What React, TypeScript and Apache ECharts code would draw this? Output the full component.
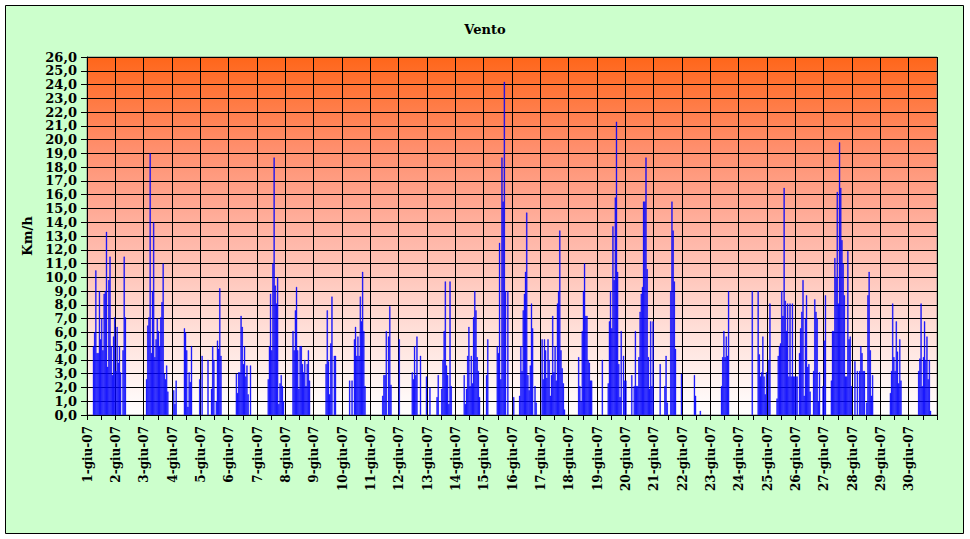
import React, { useEffect, useRef } from "react";
import * as echarts from "echarts";

const dayLabels = [
  "1-giu-07", "2-giu-07", "3-giu-07", "4-giu-07", "5-giu-07", "6-giu-07",
  "7-giu-07", "8-giu-07", "9-giu-07", "10-giu-07", "11-giu-07", "12-giu-07",
  "13-giu-07", "14-giu-07", "15-giu-07", "16-giu-07", "17-giu-07", "18-giu-07",
  "19-giu-07", "20-giu-07", "21-giu-07", "22-giu-07", "23-giu-07", "24-giu-07",
  "25-giu-07", "26-giu-07", "27-giu-07", "28-giu-07", "29-giu-07", "30-giu-07",
];

// hourly wind speed readings (Km/h), 24 per day
const windByDay: number[][] = [
  [0, 0, 0, 0, 0, 5, 6, 10.5, 4.5, 4.5, 9, 5.5, 7, 4.7, 8.8, 9, 13.3, 3.5, 9.8, 11.5, 5.0, 2.9, 5.7, 7.1],
  [3.2, 6.4, 3.8, 5.0, 3.1, 0, 4.7, 11.5, 7.1, 0, 0, 0, 0, 0, 0, 0, 0, 0, 0, 0, 0, 0, 0, 0],
  [0, 0, 2.6, 6.5, 7.1, 19, 4.5, 9, 14, 4.2, 5.5, 7, 6.1, 5.0, 7.1, 8.2, 11, 3, 2.6, 3.6, 1.7, 0, 0, 0],
  [0, 1.8, 0.8, 2.5, 0, 0, 0, 0, 0, 0, 6.3, 6.0, 4.7, 0.6, 3.1, 2.4, 5.0, 0, 0, 0, 0, 0, 0, 2.6],
  [0, 4.3, 0, 0, 0, 0, 4.0, 0, 0, 1.9, 5.0, 4.0, 0, 1.0, 5.4, 4.8, 9.2, 4.3, 0, 0, 0, 0, 0, 0],
  [0, 0, 0, 0, 0, 0, 3.0, 1.6, 3.1, 3.1, 7.2, 6.4, 3.7, 5.0, 2.8, 3.6, 1.5, 0, 3.6, 0, 0, 0, 0, 0],
  [0, 0, 0, 0, 0, 0, 0, 0, 0, 2.6, 5.0, 8.8, 4.7, 11, 18.7, 9.4, 8.1, 10, 0.8, 2.3, 2.9, 2.1, 1.0, 0],
  [0, 0, 0, 0, 0, 0, 6.1, 4.7, 7.6, 9.3, 4.7, 1.9, 5.0, 5.0, 3.7, 3.1, 4.0, 2.1, 3.7, 4.7, 2.5, 0, 0, 0],
  [0, 0, 0, 0, 0, 0, 0, 0, 0, 0, 3.7, 7.6, 3.9, 1.5, 5.2, 8.6, 0, 4.3, 4.3, 0, 0, 0, 0, 0],
  [0, 0, 0, 0, 0, 0, 2.5, 0, 2.5, 0, 5.5, 6.4, 4.3, 5.7, 4.3, 8.6, 6.8, 10.4, 6.1, 2.1, 0, 0, 0, 0],
  [0, 0, 0, 0, 0, 0, 0, 0, 0, 0, 1.4, 2.9, 2.9, 6.1, 0, 5.7, 7.9, 2.2, 0, 0, 0, 0, 0, 0],
  [5.5, 0, 0, 0, 0, 0, 0, 0, 0, 0, 0, 3.1, 2.6, 5.0, 2.9, 5.7, 0, 0, 4.3, 0, 0, 0, 0, 2.8],
  [0, 0, 2.0, 0, 0, 0, 0, 0, 1.3, 2.9, 0, 0, 1.9, 4.0, 6.1, 9.7, 3.6, 2.9, 0.8, 9.7, 2.1, 0, 0, 0],
  [0, 0, 0, 0, 0, 0, 0, 2.9, 0.8, 1.9, 4.3, 6.4, 2.1, 4.3, 2.3, 7.1, 9.0, 7.6, 4.2, 3.2, 1.3, 0, 0, 0],
  [0, 0, 2.9, 5.5, 0, 0, 0, 0, 0, 0, 0, 5.0, 4.5, 12.5, 2.6, 18.7, 15.5, 24.2, 9.0, 0, 9.0, 0, 0, 0],
  [0, 1.3, 0, 0, 0, 0, 1.4, 5.0, 3.2, 7.6, 8.8, 10.4, 14.7, 2.9, 1.8, 3.6, 8.1, 6.3, 0, 2.1, 0.9, 0, 0, 0],
  [0, 5.5, 2.6, 5.5, 4.7, 2.7, 5.5, 4.0, 1.4, 2.9, 7.2, 3.1, 5.0, 2.5, 8.1, 9.0, 13.4, 4.7, 3.4, 2.3, 0.4, 0, 0, 0],
  [0, 0, 0, 0, 0, 0, 0, 0, 4.2, 2.1, 1.0, 6.1, 9.0, 11, 7.2, 7.2, 4.0, 3.8, 2.5, 2.5, 0, 0, 0, 0],
  [0, 0, 0, 0, 4.0, 0, 0, 0, 0, 2.3, 6.8, 9.0, 6.3, 13.7, 9.8, 15.8, 21.3, 10.4, 3.7, 1.3, 6.1, 0, 4.3, 2.5],
  [2.5, 0, 0, 0, 0, 2.9, 0, 2.1, 6.1, 2.1, 2.1, 4.2, 7.5, 8.8, 9.3, 15.5, 15.5, 18.7, 10.6, 4.2, 1.9, 6.8, 2.1, 6.8],
  [0, 0, 0, 0, 0, 3.7, 0, 0, 0, 2.1, 4.3, 0.9, 0, 0, 9.0, 15.5, 13.4, 9.7, 4.8, 0, 0, 0, 0, 3.0],
  [0, 0, 0, 0, 0, 0, 0, 0, 0, 0, 2.9, 1.4, 0, 0, 0, 0.3, 0, 0, 0, 0, 0, 0, 0, 0],
  [0, 0, 0, 0, 0, 0, 0, 0, 0, 2.1, 4.2, 6.1, 4.2, 5.7, 4.3, 9.0, 0, 0, 0, 0, 0, 0, 0, 0],
  [0, 0, 0, 0, 0, 0, 0, 0, 0, 0, 0, 9.0, 0, 0, 0, 0, 9.0, 4.4, 2.8, 3.1, 5.7, 2.8, 1.5, 3.1],
  [0, 4.0, 8.1, 0, 0, 0, 0, 0, 1.2, 4.3, 5.0, 5.2, 9.0, 7.2, 16.5, 8.3, 6.1, 8.1, 2.8, 8.1, 2.8, 8.1, 2.8, 2.8],
  [2.8, 2.8, 0, 4.5, 6.3, 7.5, 9.8, 1.4, 7.0, 8.7, 3.5, 3.7, 1.7, 0, 0, 3.2, 8.4, 7.5, 7.0, 1.0, 3.1, 0, 0, 2.1],
  [5.4, 8.7, 0, 0, 0, 0, 2.5, 6.1, 6.1, 11.4, 10, 16.2, 8.1, 19.8, 16.5, 12.7, 11, 8.7, 2.8, 2.8, 11.9, 5.5, 5.7, 2.1],
  [0, 0, 3.9, 0, 3.2, 0, 3.2, 5.0, 4.5, 3.2, 3.2, 0, 0.9, 8.7, 10.4, 4.7, 1.4, 2.9, 0, 0, 0, 0, 0, 0],
  [0, 0, 0, 0, 0, 0, 0, 0, 1.6, 3.2, 8.1, 4.2, 3.2, 6.8, 4.6, 2.3, 5.5, 2.5, 0, 0, 0, 0, 0, 0],
  [0, 0, 0, 0, 0, 0, 0, 0, 3.2, 4.1, 8.1, 2.1, 4.2, 6.8, 4.0, 5.7, 2.6, 4.0, 0.3, 0, 0, 0, 0, 0],
];

const categories: string[] = dayLabels.flatMap((d) =>
  Array.from({ length: 24 }, (_, h) => (h === 0 ? d : `${d} ${h}:00`))
);
const values: number[] = windByDay.flat();

const FONT = "DejaVu Serif";

export default function App() {
  const ref = useRef<HTMLDivElement>(null);

  useEffect(() => {
    document.body.style.margin = "0";
    if (!ref.current) return;
    const chart = echarts.init(ref.current, null, { renderer: "svg" });
    chart.setOption({
      animation: false,
      backgroundColor: "#ffffff",
      graphic: [
        {
          type: "rect",
          z: -100,
          silent: true,
          shape: { x: 5.5, y: 5.5, width: 958, height: 528 },
          style: { fill: "#CCFFCC", stroke: "#000000", lineWidth: 1 },
        },
      ],
      title: {
        text: "Vento",
        left: "center",
        top: 18,
        textStyle: { fontFamily: FONT, fontWeight: "bold", fontSize: 13, color: "#000" },
      },
      grid: {
        left: 87,
        top: 57,
        width: 850,
        height: 358,
        show: true,
        borderColor: "#808080",
        borderWidth: 1,
        backgroundColor: new echarts.graphic.LinearGradient(0, 0, 0, 1, [
          { offset: 0, color: "#FF661A" },
          { offset: 0.25, color: "#FF8E6C" },
          { offset: 0.5, color: "#FFB5A6" },
          { offset: 0.75, color: "#FFDDD6" },
          { offset: 1, color: "#FFFFFF" },
        ]),
      },
      xAxis: {
        type: "category",
        data: categories,
        boundaryGap: true,
        axisLine: { show: true, lineStyle: { color: "#000", width: 1 } },
        axisTick: { show: true, interval: 11, length: 5, lineStyle: { color: "#000" } },
        axisLabel: {
          interval: 23,
          rotate: 90,
          margin: 11,
          formatter: (v: string) => v.split(" ")[0],
          fontFamily: FONT,
          fontWeight: "bold",
          fontSize: 12,
          color: "#000",
        },
        splitLine: { show: true, interval: 23, lineStyle: { color: "#000", width: 1 } },
      },
      yAxis: {
        type: "value",
        min: 0,
        max: 26,
        interval: 1,
        name: "Km/h",
        nameLocation: "middle",
        nameRotate: 90,
        nameGap: 50,
        nameTextStyle: { fontFamily: FONT, fontWeight: "bold", fontSize: 13, color: "#000" },
        axisLine: { show: true, lineStyle: { color: "#000", width: 1 } },
        axisTick: { show: true, length: 6, lineStyle: { color: "#000" } },
        axisLabel: {
          margin: 10,
          showMinLabel: true,
          showMaxLabel: true,
          hideOverlap: false,
          formatter: (v: number) => v.toFixed(1).replace(".", ","),
          fontFamily: FONT,
          fontWeight: "bold",
          fontSize: 13,
          lineHeight: 13,
          color: "#000",
        },
        splitLine: { show: true, lineStyle: { color: "#000", width: 1 } },
      },
      series: [
        {
          type: "bar",
          data: values.map((v) => (v === 0 ? null : v)),
          barCategoryGap: "0%",
          barGap: "0%",
          itemStyle: { color: "#0000FF", borderColor: "#0000FF", borderWidth: 0.4 },
        },
      ],
    });
    return () => chart.dispose();
  }, []);

  return <div ref={ref} style={{ width: 970, height: 539 }} />;
}
